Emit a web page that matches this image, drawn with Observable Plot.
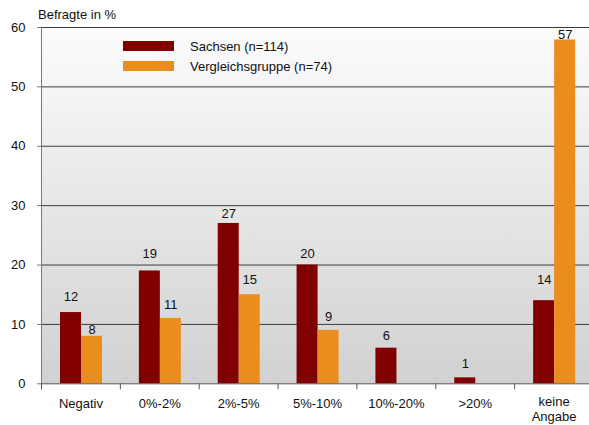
<!DOCTYPE html>
<html><head><meta charset="utf-8">
<script src="https://cdn.jsdelivr.net/npm/d3@7"></script>
<script src="https://cdn.jsdelivr.net/npm/@observablehq/plot@0.6"></script>
<style>
body{margin:0;background:#fff;font-family:"Liberation Sans",Arial,sans-serif;}
#wrap{position:relative;width:589px;height:425px;overflow:hidden;}
.ov{position:absolute;font-size:13px;color:#111;white-space:nowrap;line-height:1;}
.sw{position:absolute;width:51px;height:10px;}
</style></head><body><div id="wrap"></div>
<script>
const categories = ["Negativ","0%-2%","2%-5%","5%-10%","10%-20%",">20%","keine\nAngabe"];
const sachsen = [12,19,27,20,6,1,14];
const sachsenLabels = ["12","19","27","20","6","1","14"];
const vergleich = [8,11,15,9,null,null,57.9];
const vergleichLabels = ["8","11","15","9","","","57"];
const seriesNames = ["Sachsen (n=114)","Vergleichsgruppe (n=74)"];
const yTicks = [0,10,20,30,40,50,60];
const yTitle = "Befragte in %";

// styling (label gaps above bars in px)
const colors = ["#800000","#EB8C1E"];
const sachsenGap = [16,17,10,11,12,14,21];
const vergleichGap = [6,14,15,14,0,0,5];

const W = 589, H = 425;
const bandW = (593 - 41) / categories.length;
const offS = (19 + 40) / 2 - bandW / 2;
const offV = (40 + 61) / 2 - bandW / 2;

const sData = categories.map((c, i) => ({cat: c, v: sachsen[i], label: sachsenLabels[i], gap: sachsenGap[i]}));
const vData = categories.map((c, i) => ({cat: c, v: vergleich[i], label: vergleichLabels[i], gap: vergleichGap[i]})).filter(d => d.v != null);

const labelMarks = [];
for (const d of sData) labelMarks.push(Plot.text([d], {x: "cat", y: "v", text: "label", dx: offS, dy: -d.gap, fontSize: 13, fill: "#111"}));
for (const d of vData) labelMarks.push(Plot.text([d], {x: "cat", y: "v", text: "label", dx: offV, dy: -d.gap, fontSize: 13, fill: "#111"}));

const singleLine = categories.filter(c => !c.includes("\n"));
const multiLine = categories.filter(c => c.includes("\n"));

const chart = Plot.plot({
  width: W, height: H,
  marginLeft: 41, marginRight: 0, marginTop: 27, marginBottom: 42,
  style: {fontFamily: "'Liberation Sans', Arial, sans-serif", fontSize: "13px", background: "transparent", overflow: "visible"},
  x: {domain: categories, range: [41, 593], padding: 0, round: false},
  y: {domain: [0, 60], range: [383.3, 27]},
  marks: [
    Plot.frame({fill: "url(#bgGrad)", stroke: "none"}),
    Plot.ruleY(yTicks.filter(d => d > 0), {stroke: "#3c3c3c", strokeWidth: 1}),
    Plot.barY(sData, {x: "cat", y: "v", fill: colors[0], insetLeft: 19, insetRight: bandW - 40}),
    Plot.barY(vData, {x: "cat", y: "v", fill: colors[1], insetLeft: 40, insetRight: bandW - 61}),
    Plot.ruleY([0], {stroke: "#555"}),
    Plot.frame({anchor: "left", stroke: "#777"}),
    Plot.ruleX(categories, {x: d => d, y1: 0, y2: 0, insetBottom: -6, dx: -bandW / 2, stroke: "#555"}),
    Plot.axisY({ticks: yTicks, tickSize: 4, tickPadding: 12, fontSize: 13, label: null, stroke: "#777", fill: "#111"}),
    Plot.axisX({ticks: singleLine, tickSize: 0, tickPadding: 15, fontSize: 13, label: null, fill: "#111"}),
    Plot.axisX({ticks: multiLine, tickSize: 0, tickPadding: 12, fontSize: 13, label: null, lineHeight: 1.15, fill: "#111"}),
    ...labelMarks
  ]
});

const svg = d3.select(chart);
const defs = svg.insert("defs", ":first-child");
const g = defs.append("linearGradient").attr("id", "bgGrad").attr("x1", 0).attr("y1", 0).attr("x2", 0).attr("y2", 1);
g.append("stop").attr("offset", "0%").attr("stop-color", "#fcfcfc");
g.append("stop").attr("offset", "100%").attr("stop-color", "#d1d1d1");

const wrap = document.getElementById("wrap");
wrap.appendChild(chart);
chart.style.position = "absolute"; chart.style.left = "0"; chart.style.top = "0";

const t = document.createElement("div");
t.className = "ov"; t.textContent = yTitle; t.style.left = "38px"; t.style.top = "8px";
wrap.appendChild(t);

seriesNames.forEach((name, i) => {
  const sw = document.createElement("div");
  sw.className = "sw"; sw.style.left = "123px"; sw.style.top = (41 + i * 20) + "px"; sw.style.background = colors[i];
  wrap.appendChild(sw);
  const lb = document.createElement("div");
  lb.className = "ov"; lb.textContent = name; lb.style.left = "190px"; lb.style.top = (40 + i * 20) + "px";
  wrap.appendChild(lb);
});
</script></body></html>
